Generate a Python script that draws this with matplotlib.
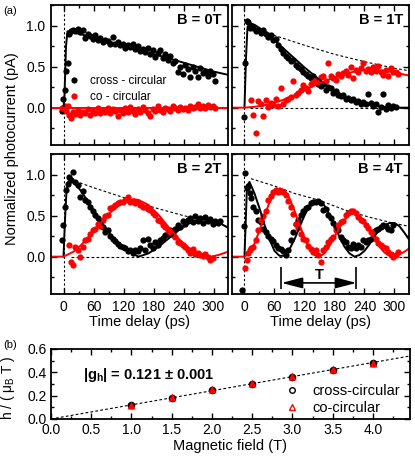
import numpy as np
import matplotlib
matplotlib.use("Agg")
import matplotlib.pyplot as plt
from matplotlib.lines import Line2D
from matplotlib.ticker import MultipleLocator

plt.rcParams['font.family'] = ['Liberation Sans', 'DejaVu Sans']
plt.rcParams['mathtext.fontset'] = 'custom'
plt.rcParams['mathtext.rm'] = 'Liberation Sans'
plt.rcParams['mathtext.it'] = 'Liberation Sans:italic'
plt.rcParams['mathtext.bf'] = 'Liberation Sans:bold'

nan = np.nan

# ---- panel (a): time resolved photocurrent ----
delay_ps = [
    -4, -1, 2, 5, 8, 11, 14, 18, 23, 28,
    33, 38, 43, 48, 53, 58, 63, 68, 73, 78,
    83, 88, 93, 98, 103, 108, 113, 118, 123, 128,
    133, 138, 143, 148, 153, 158, 163, 168, 173, 178,
    183, 188, 193, 198, 203, 208, 213, 218, 223, 228,
    233, 238, 243, 248, 253, 258, 263, 268, 273, 278,
    283, 288, 293, 298, 303, 308, 313]

cross_0T = [
    -0.04, 0.11, 0.22, 0.45, 0.54, 0.90, 0.93, 0.95, 0.93, 0.96,
    0.92, 0.95, 0.85, 0.90, 0.87, 0.84, 0.88, 0.82, 0.85, 0.80,
    0.83, 0.81, 0.78, 0.86, 0.77, 0.80, 0.76, 0.78, 0.73, 0.76,
    0.74, 0.77, 0.71, 0.75, 0.69, 0.72, 0.68, 0.73, 0.65, 0.70,
    0.62, 0.67, 0.70, 0.60, 0.65, 0.58, 0.63, 0.54, 0.57, 0.44,
    0.50, 0.41, 0.52, 0.47, 0.37, 0.49, 0.45, 0.37, 0.48, 0.42,
    0.44, 0.39, 0.45, 0.41, 0.33, nan, nan]
co_0T = [
    0.00, -0.01, 0.02, -0.04, 0.02, -0.09, -0.12, -0.05, -0.08, -0.03,
    -0.09, -0.05, -0.07, -0.02, -0.09, -0.04, -0.06, -0.01, -0.07, -0.03,
    -0.05, 0.00, -0.06, -0.02, -0.04, -0.10, -0.03, -0.06, -0.01, -0.05,
    0.01, -0.04, -0.08, -0.02, -0.05, 0.01, -0.03, -0.06, -0.10, -0.02,
    -0.04, 0.02, -0.03, -0.05, 0.00, -0.02, -0.04, 0.02, -0.01, -0.03,
    0.01, -0.02, 0.00, -0.03, 0.02, -0.01, 0.01, 0.05, 0.00, 0.02,
    -0.01, 0.03, 0.01, 0.02, 0.00, nan, nan]

cross_1T = [
    nan, -0.11, 0.55, 1.06, 1.04, 0.97, 1.00, 0.97, 0.93, 0.95,
    0.91, 0.94, 0.90, 0.86, 0.89, 0.82, 0.84, 0.76, 0.72, 0.66,
    0.63, 0.60, 0.57, 0.58, 0.52, 0.49, 0.47, 0.44, 0.41, 0.38,
    0.36, 0.39, 0.31, 0.29, 0.26, 0.29, 0.22, 0.25, 0.24, 0.18,
    0.20, 0.15, 0.14, 0.16, 0.11, 0.12, 0.09, 0.10, 0.07, 0.08,
    0.05, 0.07, 0.04, 0.17, 0.06, 0.02, 0.04, -0.05, 0.01, 0.17,
    -0.02, 0.03, 0.00, 0.02, 0.01, nan, nan]
co_1T = [
    nan, nan, nan, nan, nan, nan, 0.09, -0.09, -0.31, 0.08,
    0.05, -0.10, 0.09, 0.01, 0.06, 0.03, 0.10, 0.02, 0.24, 0.05,
    0.09, 0.11, 0.13, 0.32, 0.16, 0.18, 0.22, 0.27, 0.24, 0.20,
    0.29, 0.31, 0.34, 0.32, 0.37, 0.38, 0.33, 0.54, 0.38, 0.36,
    0.34, 0.41, 0.39, 0.42, 0.45, 0.40, 0.50, 0.36, 0.46, 0.44,
    0.48, 0.54, 0.45, 0.47, 0.43, 0.49, 0.45, 0.51, 0.44, 0.40,
    0.46, 0.39, 0.48, 0.43, 0.44, 0.41, nan]

cross_2T = [
    0.20, 0.38, 0.61, 0.81, 0.89, 0.97, 0.93, 1.03, 0.91, 0.87,
    0.73, 0.80, 0.69, 0.67, 0.61, 0.55, 0.51, 0.47, 0.43, 0.36,
    0.30, 0.32, 0.25, 0.22, 0.19, 0.16, 0.13, 0.12, 0.10, 0.07,
    0.08, 0.05, 0.08, 0.07, 0.10, 0.20, 0.08, 0.22, 0.14, 0.11,
    0.18, 0.14, 0.20, 0.23, 0.26, 0.28, 0.32, 0.30, 0.34, 0.38,
    0.36, 0.43, 0.40, 0.45, 0.47, 0.42, 0.49, 0.44, 0.47, 0.41,
    0.48, 0.43, 0.46, 0.40, 0.44, 0.41, 0.43]
co_2T = [
    nan, nan, nan, nan, nan, 0.14, -0.06, -0.10, 0.12, 0.08,
    0.00, 0.12, 0.20, 0.22, 0.27, 0.32, 0.34, 0.40, 0.37, 0.45,
    0.49, 0.51, 0.59, 0.60, 0.63, 0.65, 0.67, 0.66, 0.69, 0.73,
    0.67, 0.68, 0.65, 0.66, 0.63, 0.61, 0.60, 0.58, 0.57, 0.53,
    0.51, 0.45, 0.43, 0.38, 0.36, 0.32, 0.30, 0.26, 0.24, 0.18,
    0.17, 0.14, 0.12, 0.08, 0.05, 0.09, 0.03, 0.04, 0.02, 0.01,
    0.03, 0.00, -0.04, -0.02, nan, nan, nan]

cross_4T = [
    -0.41, 0.37, 1.02, 0.83, 0.86, 0.77, 0.72, 0.60, 0.55, 0.45,
    0.42, 0.34, 0.30, 0.25, 0.21, 0.19, 0.14, 0.11, 0.09, 0.07,
    0.02, 0.08, 0.20, 0.30, 0.40, 0.45, 0.51, 0.55, 0.59, 0.61,
    0.65, 0.66, 0.67, 0.68, 0.65, 0.57, 0.58, 0.51, 0.47, 0.41,
    0.36, 0.33, 0.24, 0.20, 0.18, 0.12, 0.10, 0.16, 0.10, 0.14,
    0.12, 0.20, 0.18, 0.20, 0.22, 0.30, 0.32, 0.34, 0.36, 0.38,
    0.37, 0.34, 0.32, 0.38, nan, nan, nan]
co_4T = [
    nan, nan, -0.14, -0.04, 0.05, 0.08, 0.10, 0.12, 0.20, 0.32,
    0.45, 0.49, 0.55, 0.69, 0.74, 0.79, 0.81, 0.79, 0.80, 0.79,
    0.75, 0.68, 0.60, 0.52, 0.40, 0.35, 0.28, 0.22, 0.20, 0.13,
    0.09, 0.06, 0.08, 0.02, -0.07, 0.08, 0.12, 0.18, 0.22, 0.24,
    0.32, 0.38, 0.42, 0.44, 0.51, 0.53, 0.55, 0.55, 0.53, 0.48,
    0.45, 0.43, 0.38, 0.35, 0.30, 0.27, 0.22, 0.17, 0.14, 0.12,
    0.10, 0.06, 0.03, 0.00, 0.02, 0.06, nan]

# fitted curves
fit_cross_0T_t = [0, 2, 5, 8, 12, 50, 100, 150, 200, 250, 300, 329]
fit_cross_0T = [0, 0.15, 0.75, 0.93, 0.93, 0.87, 0.79, 0.70, 0.62, 0.53, 0.44, 0.40]
fit_co_0T_t = [-25, 329]
fit_co_0T = [0, 0]

fit_cross_1T_t = [0, 3, 6, 10, 20, 40, 60, 80, 100, 120, 140, 160, 180, 200, 220, 240, 260, 280, 300, 329]
fit_cross_1T = [0, 0.6, 0.98, 1.03, 1.01, 0.93, 0.82, 0.71, 0.60, 0.49, 0.39, 0.29, 0.21, 0.14, 0.09,
                0.05, 0.025, 0.01, 0.0, 0.0]
fit_co_1T_t = [-25, 0, 20, 40, 60, 80, 100, 120, 140, 160, 180, 200, 220, 240, 260, 280, 300, 329]
fit_co_1T = [0, 0, 0.01, 0.03, 0.06, 0.10, 0.15, 0.21, 0.27, 0.32, 0.37, 0.41, 0.44, 0.46, 0.46,
             0.45, 0.43, 0.39]
env_1T_t = [12, 60, 120, 180, 240, 300, 329]
env_1T = [1.00, 0.88, 0.76, 0.65, 0.56, 0.48, 0.45]

fit_cross_2T_t = [0, 3, 6, 10, 14, 20, 35, 50, 70, 90, 110, 130, 150, 170, 190, 210, 230, 250, 270,
                  290, 310, 329]
fit_cross_2T = [0, 0.45, 0.80, 0.92, 0.94, 0.91, 0.80, 0.66, 0.47, 0.30, 0.17, 0.06, 0.0, 0.04, 0.12,
                0.22, 0.32, 0.40, 0.45, 0.46, 0.42, 0.35]
fit_co_2T_t = [-25, 0, 20, 35, 50, 70, 90, 110, 130, 140, 150, 170, 190, 210, 230, 250, 270, 295, 310, 329]
fit_co_2T = [0, 0, 0.06, 0.14, 0.24, 0.38, 0.52, 0.62, 0.68, 0.70, 0.69, 0.63, 0.51, 0.36, 0.22, 0.11,
             0.05, 0.0, 0.02, 0.06]
env_2T_t = [14, 60, 120, 180, 240, 300, 329]
env_2T = [0.94, 0.84, 0.72, 0.60, 0.50, 0.41, 0.37]

fit_cross_4T_t = [0, 5, 10, 20, 30, 40, 50, 60, 70, 80, 90, 100, 110, 120, 130, 140, 150, 160, 170,
                  180, 190, 200, 210, 220, 230, 240, 250, 260, 270, 280, 290, 300, 310, 320, 329]
fit_cross_4T = [0, 0.86, 0.91, 0.77, 0.59, 0.39, 0.21, 0.07, 0.01, 0.01, 0.09, 0.21, 0.36, 0.50, 0.62,
                0.68, 0.69, 0.62, 0.51, 0.38, 0.24, 0.12, 0.04, 0.0, 0.02, 0.07, 0.15, 0.25, 0.33,
                0.38, 0.41, 0.41, 0.37, 0.29, 0.21]
fit_co_4T_t = [-25, 0, 10, 20, 30, 40, 50, 60, 70, 80, 90, 100, 110, 120, 130, 140, 150, 160, 170,
               180, 190, 200, 210, 220, 230, 240, 250, 260, 270, 280, 290, 300, 310, 320, 329]
fit_co_4T = [0, 0, 0.04, 0.16, 0.32, 0.50, 0.66, 0.79, 0.83, 0.81, 0.71, 0.56, 0.39, 0.23, 0.10, 0.02,
             0.0, 0.04, 0.13, 0.24, 0.36, 0.45, 0.51, 0.53, 0.50, 0.43, 0.33, 0.22, 0.12, 0.05, 0.01,
             0.0, 0.03, 0.06, 0.10]
env_4T_t = [13, 60, 100, 148, 200, 250, 296, 329]
env_4T = [0.95, 0.86, 0.77, 0.69, 0.57, 0.48, 0.41, 0.37]

zero_start = {"1T": 12, "2T": 14, "4T": 10}
period_ends = [74, 224]
period_y = -0.32

# ---- panel (b): Zeeman splitting vs field ----
field_T = [1.0, 1.5, 2.0, 2.5, 3.0, 3.5, 4.0]
h_cross = [0.116, 0.180, 0.246, 0.304, 0.362, 0.424, 0.482]
h_co = [0.121, 0.190, 0.256, 0.306, 0.370, 0.428, 0.478]
fit_B = [0.0, 4.46]
fit_h = [0.0, 0.54]


def style_axes(ax):
    ax.tick_params(which='both', direction='in', top=True, right=True, width=1.0, labelsize=10, pad=4)
    ax.tick_params(which='major', length=4)
    ax.tick_params(which='minor', length=2.5)
    for s in ax.spines.values():
        s.set_linewidth(1.3)


fig = plt.figure(figsize=(4.15, 4.66), dpi=100)

panels = [
    ("0T", (0.1229, 0.6888), cross_0T, co_0T, fit_cross_0T_t, fit_cross_0T, fit_co_0T_t, fit_co_0T, None, None),
    ("1T", (0.5590, 0.6888), cross_1T, co_1T, fit_cross_1T_t, fit_cross_1T, fit_co_1T_t, fit_co_1T, env_1T_t, env_1T),
    ("2T", (0.1229, 0.3691), cross_2T, co_2T, fit_cross_2T_t, fit_cross_2T, fit_co_2T_t, fit_co_2T, env_2T_t, env_2T),
    ("4T", (0.5590, 0.3691), cross_4T, co_4T, fit_cross_4T_t, fit_cross_4T, fit_co_4T_t, fit_co_4T, env_4T_t, env_4T),
]

dash = (0, (2.5, 2))
for i, (name, pos, cross, co, fct, fc, fot, fo, et, ev) in enumerate(panels):
    ax = fig.add_axes([pos[0], pos[1], 0.4265, 0.3004])
    ax.axvline(0, color='k', lw=0.8, ls=(0, (2, 2)))
    if et is not None:
        ax.plot(et, ev, color='k', lw=0.8, ls=dash)
        ax.hlines(0, zero_start[name], 329, color='k', lw=0.8, linestyles=dash)
    ax.plot(delay_ps, cross, 'o', color='k', ms=4.5, mec='none', label='cross - circular')
    ax.plot(delay_ps, co, 'o', color='r', ms=4.5, mec='none', label='co - circular')
    ax.plot(fct, fc, color='k', lw=1.4)
    ax.plot(fot, fo, color='r', lw=1.4)

    ax.set_xlim(-25, 329)
    ax.set_ylim(-0.455, 1.25)
    ax.xaxis.set_major_locator(MultipleLocator(60))
    ax.xaxis.set_minor_locator(MultipleLocator(30))
    ax.yaxis.set_major_locator(MultipleLocator(0.5))
    ax.yaxis.set_minor_locator(MultipleLocator(0.25))
    style_axes(ax)
    if i < 2:
        ax.tick_params(labelbottom=False)
    else:
        ax.set_xlabel('Time delay (ps)', fontsize=10.5, labelpad=1)
    if i % 2 == 1:
        ax.tick_params(labelleft=False)

    ax.text(0.965, 0.895, 'B = ' + name, transform=ax.transAxes, ha='right', va='center',
            fontsize=10.5, fontweight='bold')

    if name == "0T":
        ax.legend(loc='center left', bbox_to_anchor=(0.096, 0.40), frameon=False, fontsize=8.5,
                  handlelength=1, handletextpad=0.9, borderpad=0, borderaxespad=0, labelspacing=0.3)
    if name == "4T":
        ax.annotate('', xy=(period_ends[1], period_y), xytext=(period_ends[0], period_y),
                    arrowprops=dict(arrowstyle='<|-|>,head_length=0.85,head_width=0.22',
                                    mutation_scale=15, color='k', lw=1.2, shrinkA=0, shrinkB=0))
        ax.vlines(period_ends, -0.39, -0.13, color='k', lw=1.2)
        ax.text(sum(period_ends) / 2, -0.22, 'T', ha='center', va='center', fontsize=10.5,
                fontweight='bold')

fig.text(0.030, 0.682, 'Normalized photocurrent (pA)', rotation=90, ha='center', va='center',
         fontsize=10.5)
fig.text(0.007, 0.988, '(a)', ha='left', va='top', fontsize=8)
fig.text(0.007, 0.270, '(b)', ha='left', va='top', fontsize=8)

# panel (b)
axb = fig.add_axes([0.1229, 0.1009, 0.865, 0.1502])
axb.plot(fit_B, fit_h, color='k', lw=0.8, ls=dash)
axb.plot(field_T, h_cross, 'o', color='k', ms=5.5, mec='none')
axb.plot(field_T, h_co, '^', color='r', ms=6, mec='none')
axb.set_xlim(0, 4.46)
axb.set_ylim(0, 0.6)
axb.xaxis.set_major_locator(MultipleLocator(0.5))
axb.xaxis.set_minor_locator(MultipleLocator(0.25))
axb.yaxis.set_major_locator(MultipleLocator(0.2))
axb.yaxis.set_minor_locator(MultipleLocator(0.1))
style_axes(axb)
axb.tick_params(pad=3)
axb.set_xlabel('Magnetic field (T)', fontsize=10.5, labelpad=1)
axb.set_ylabel(r'h / ( μ$_{\mathrm{B}}$ T )', fontsize=10)
axb.yaxis.set_label_coords(-0.095, 0.45)
axb.text(0.089, 0.63, r'|g$_{\mathbf{h}}$| = 0.121 ± 0.001', transform=axb.transAxes,
         ha='left', va='center', fontsize=10.5, fontweight='bold')

handles = [Line2D([], [], marker='o', ls='none', mfc='none', mec='k', ms=4, mew=1),
           Line2D([], [], marker='^', ls='none', mfc='none', mec='r', ms=5, mew=1)]
axb.legend(handles, ['cross-circular', 'co-circular'], loc='center left', bbox_to_anchor=(0.651, 0.28),
           frameon=False, fontsize=10.5, handlelength=1, handletextpad=0.9, borderpad=0,
           borderaxespad=0, labelspacing=0.2)

fig.savefig('out.png', dpi=100)
